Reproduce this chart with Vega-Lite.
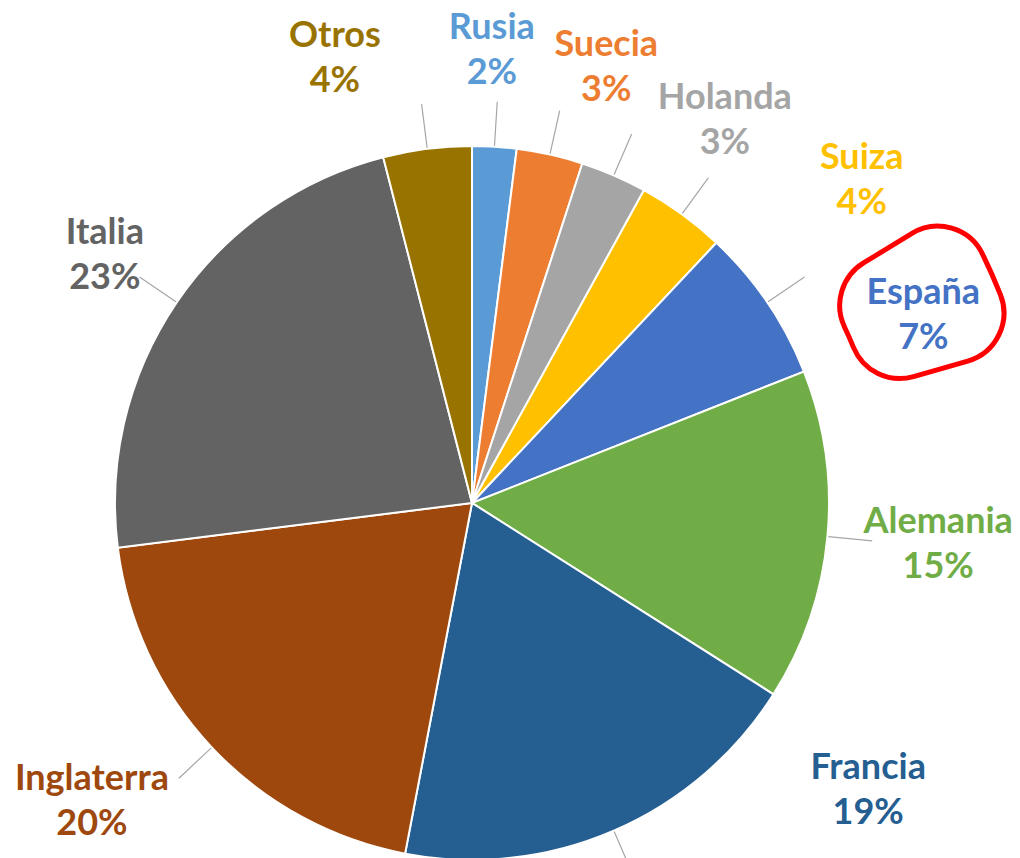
{
  "$schema": "https://vega.github.io/schema/vega-lite/v6.json",
  "width": 944,
  "height": 710,
  "autosize": {"type": "none"},
  "padding": {"left": 0, "top": 148, "right": 76, "bottom": 0},
  "background": "white",
  "data": {
    "values": [
      {"pais": "Rusia", "valor": 2},
      {"pais": "Suecia", "valor": 3},
      {"pais": "Holanda", "valor": 3},
      {"pais": "Suiza", "valor": 4},
      {"pais": "España", "valor": 7},
      {"pais": "Alemania", "valor": 15},
      {"pais": "Francia", "valor": 19},
      {"pais": "Inglaterra", "valor": 20},
      {"pais": "Italia", "valor": 23},
      {"pais": "Otros", "valor": 4}
    ]
  },
  "transform": [
    {"window": [{"op": "sum", "field": "valor", "as": "fin"}], "frame": [null, 0]},
    {"calculate": "datum.fin - datum.valor", "as": "inicio"},
    {"calculate": "datum.fin - datum.valor / 2", "as": "medio"},
    {"calculate": "datum.pais + '\\n' + datum.valor + '%'", "as": "etiqueta"}
  ],
  "layer": [
    {
      "mark": {"type": "arc", "outerRadius": 357, "stroke": "white", "strokeWidth": 2},
      "encoding": {
        "theta": {"field": "inicio", "type": "quantitative", "stack": null, "scale": {"domain": [0, 100]}},
        "theta2": {"field": "fin"},
        "color": {
          "field": "pais", "type": "nominal", "legend": null,
          "scale": {
            "domain": ["Rusia", "Suecia", "Holanda", "Suiza", "España", "Alemania", "Francia", "Inglaterra", "Italia", "Otros"],
            "range": ["#5B9BD5", "#ED7D31", "#A5A5A5", "#FFC000", "#4472C4", "#70AD47", "#255E91", "#9E480E", "#636363", "#997300"]
          }
        }
      }
    },
    {
      "mark": {"type": "arc", "outerRadius": 402, "innerRadius": 358, "fill": "transparent", "stroke": "#A6A6A6", "strokeWidth": 1.2},
      "encoding": {
        "theta": {"field": "medio", "type": "quantitative", "stack": null},
        "theta2": {"field": "medio"}
      }
    },
    {
      "transform": [{"filter": "datum.pais === 'España'"}],
      "mark": {"type": "arc", "outerRadius": 568, "innerRadius": 412, "cornerRadius": 50, "thetaOffset": 0.047, "theta2Offset": 0.318, "fill": "transparent", "stroke": "#FF0000", "strokeWidth": 5},
      "encoding": {
        "theta": {"field": "medio", "type": "quantitative", "stack": null},
        "theta2": {"field": "medio"}
      }
    },
    {
      "encoding": {
        "theta": {"field": "medio", "type": "quantitative", "stack": null},
        "text": {"field": "etiqueta"},
        "color": {"field": "pais", "type": "nominal", "legend": null}
      },
      "layer": [
        {"transform": [{"filter": "datum.pais === 'Rusia'"}], "mark": {"type": "text", "radius": 453, "thetaOffset": -0.019}},
        {"transform": [{"filter": "datum.pais === 'Suecia'"}], "mark": {"type": "text", "radius": 456, "thetaOffset": 0.079}},
        {"transform": [{"filter": "datum.pais === 'Holanda'"}], "mark": {"type": "text", "radius": 459, "thetaOffset": 0.175}},
        {"transform": [{"filter": "datum.pais === 'Suiza'"}], "mark": {"type": "text", "radius": 506, "thetaOffset": 0.251}},
        {"transform": [{"filter": "datum.pais === 'España'"}], "mark": {"type": "text", "radius": 489, "thetaOffset": 0.202}},
        {"transform": [{"filter": "datum.pais === 'Alemania'"}], "mark": {"type": "text", "radius": 468, "thetaOffset": -0.007}},
        {"transform": [{"filter": "datum.pais === 'Francia'"}], "mark": {"type": "text", "radius": 489, "thetaOffset": -0.536}},
        {"transform": [{"filter": "datum.pais === 'Inglaterra'"}], "mark": {"type": "text", "radius": 483, "thetaOffset": 0.089}},
        {"transform": [{"filter": "datum.pais === 'Italia'"}], "mark": {"type": "text", "radius": 443, "thetaOffset": -0.003}},
        {"transform": [{"filter": "datum.pais === 'Otros'"}], "mark": {"type": "text", "radius": 466, "thetaOffset": -0.173}}
      ]
    }
  ],
  "config": {
    "view": {"stroke": null},
    "text": {"font": "Lato", "fontSize": 36, "fontWeight": "bold", "lineHeight": 45, "lineBreak": "\n", "align": "center", "baseline": "middle", "dy": -22}
  }
}
